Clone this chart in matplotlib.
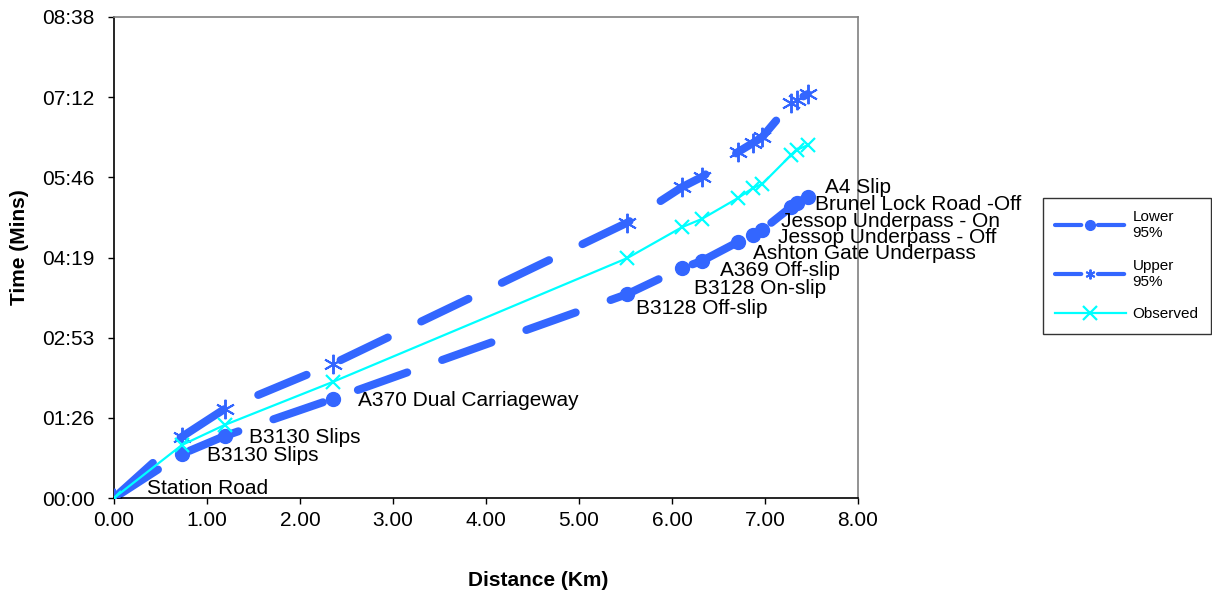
import matplotlib.pyplot as plt
from matplotlib.ticker import FixedLocator, FuncFormatter

plt.rcParams['font.family'] = ['Liberation Sans', 'DejaVu Sans']

# distance along the route (km)
dist = [0.00, 0.73, 1.19, 2.35, 5.52, 6.11, 6.32, 6.71, 6.87, 6.97, 7.28, 7.34, 7.46]
# journey times in seconds
lower = [0, 47.4, 66.8, 106.7, 219.8, 247.9, 255.4, 275.9, 283.4, 288.8, 313.6, 317.9, 324.4]
upper = [0, 66.0, 96.0, 144.4, 296.8, 335.2, 345.9, 372.9, 382.6, 389.0, 425.7, 428.9, 435.4]
observed = [0, 57.1, 78.7, 125.0, 258.6, 292.0, 300.7, 323.3, 334.1, 338.4, 369.6, 375.0, 380.4]

labels = ['Station Road', 'B3130 Slips', 'B3130 Slips', 'A370 Dual Carriageway',
          'B3128 Off-slip', 'B3128 On-slip', 'A369 Off-slip', 'Ashton Gate Underpass',
          'Jessop Underpass - Off', 'Jessop Underpass - On', '',
          'Brunel Lock Road -Off', 'A4 Slip']
# label offsets in pixels (dx, dy)
offs = [(33, 10), (25, -1), (24, -1), (25, -2), (9, -14), (12, -21), (18, -9),
        (15, -11), (25, -2), (19, 9), (0, 0), (18, -1), (17, 10)]

yticks = [0, 86.4, 172.8, 259.2, 345.6, 432.0, 518.4]

blue = '#3366FF'
cyan = '#00FFFF'

fig = plt.figure(figsize=(12.12, 6.01), dpi=100)
ax = fig.add_axes([114/1212, 1 - 498/601, (858-114)/1212, (498-17)/601])

ax.plot(dist, lower, color=blue, lw=5.8, dashes=(6.5, 4.6), dash_capstyle='round',
        marker='o', ms=10, mec=blue, mfc=blue, label='Lower\n95%', zorder=2)
ax.plot(dist, upper, color=blue, lw=5.8, dashes=(6.5, 4.6), dash_capstyle='round',
        marker=(6, 2, 0), ms=14, mew=1.4, mec=blue, label='Upper\n95%', zorder=3)
ax.plot(dist, observed, color=cyan, lw=1.6, marker='x', ms=10, mew=1.6,
        mec=cyan, label='Observed', zorder=4)

for x, y, t, (dx, dy) in zip(dist, lower, labels, offs):
    if t:
        ax.annotate(t, (x, y), xytext=(dx, dy), textcoords='offset pixels',
                    fontsize=15, va='center', ha='left', zorder=5)

ax.set_xlim(0, 8)
ax.set_ylim(0, 518.4)
ax.set_xticks(range(9))
ax.xaxis.set_major_formatter(FuncFormatter(lambda v, p: '%.2f' % v))
ax.yaxis.set_major_locator(FixedLocator(yticks))


def mmss(v, p):
    s = int(round(v))
    return '%02d:%02d' % (s // 60, s % 60)


ax.yaxis.set_major_formatter(FuncFormatter(mmss))
ax.tick_params(direction='out', length=4, width=1, labelsize=15)
ax.tick_params(axis='y', pad=10)
ax.tick_params(axis='x', pad=5)
ax.spines['left'].set_color('black')
ax.spines['bottom'].set_color('black')
ax.spines['top'].set_color('#808080')
ax.spines['right'].set_color('#808080')
for s in ax.spines.values():
    s.set_linewidth(1.2)

fig.text(538/1212, 1 - 581/601, 'Distance (Km)', ha='center', va='center',
         fontsize=15, fontweight='bold')
fig.text(20/1212, 1 - 247/601, 'Time (Mins)', ha='center', va='center',
         rotation=90, fontsize=15, fontweight='bold')

leg = fig.legend(loc='upper left', bbox_to_anchor=(1043/1212, 1 - 198/601),
                 borderaxespad=0, fontsize=11, frameon=True, fancybox=False,
                 edgecolor='black', handlelength=4.6, borderpad=0.8,
                 labelspacing=1.2, handletextpad=0.45)
leg.get_frame().set_linewidth(1.0)
for h in leg.get_lines()[:2]:
    h.set_linewidth(3)
    h.set_dashes((6.3, 4.0))
    h.set_dash_capstyle('round')
    h.set_markersize(7)

fig.savefig('out.png', dpi=100)
